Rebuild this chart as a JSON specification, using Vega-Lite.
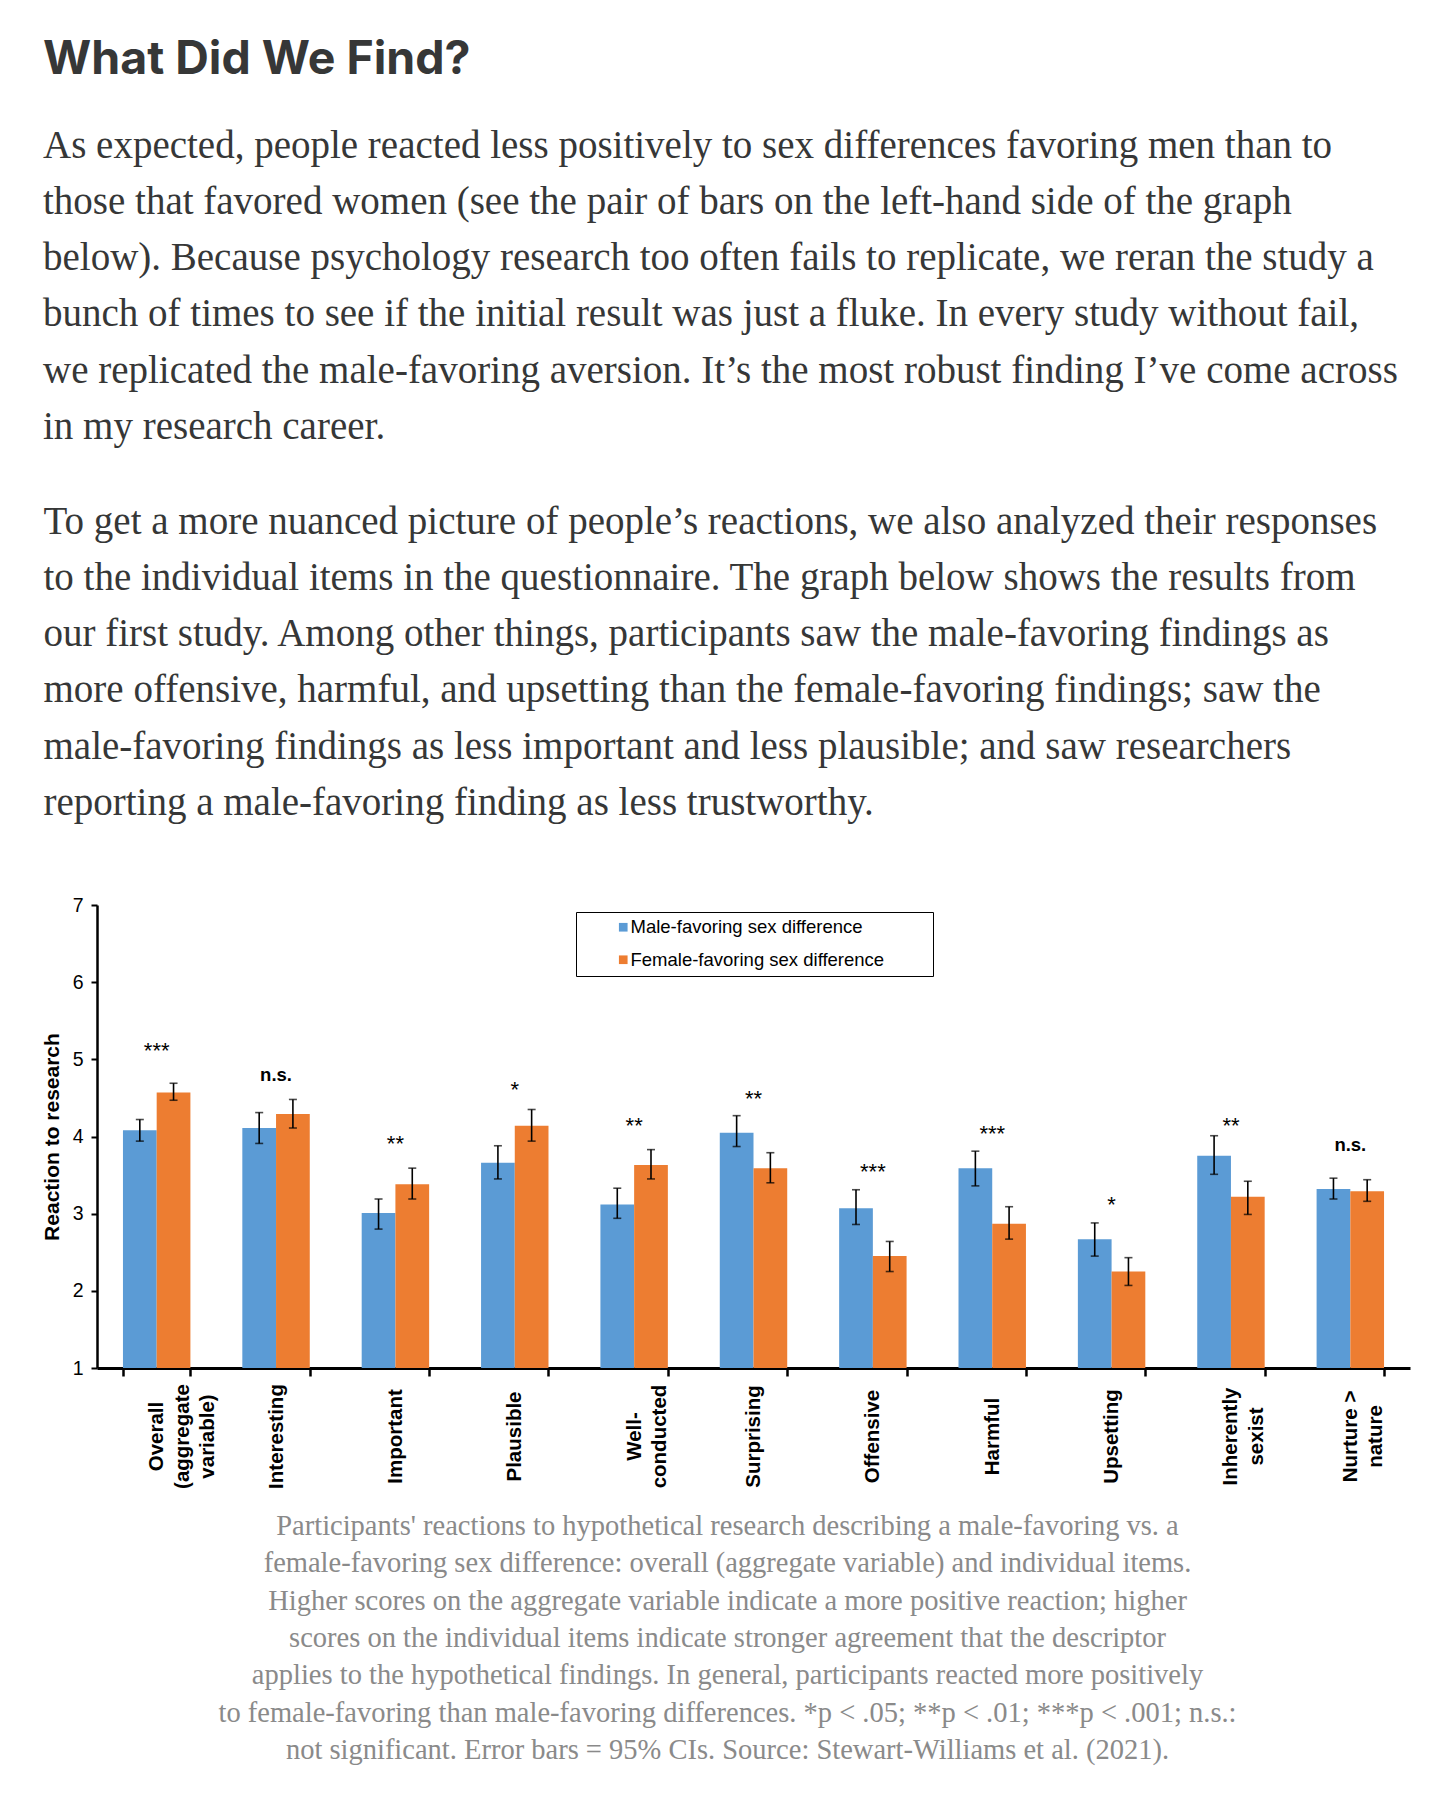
{
  "$schema": "https://vega.github.io/schema/vega-lite/v6.json",
  "width": 1313,
  "height": 463,
  "autosize": {"type": "none"},
  "padding": {"left": 97, "top": 905, "right": 46, "bottom": 450},
  "background": "white",
  "title": {
    "text": "What Did We Find?",
    "subtitle": [
      "As expected, people reacted less positively to sex differences favoring men than to",
      "those that favored women (see the pair of bars on the left-hand side of the graph",
      "below). Because psychology research too often fails to replicate, we reran the study a",
      "bunch of times to see if the initial result was just a fluke. In every study without fail,",
      "we replicated the male-favoring aversion. It\u2019s the most robust finding I\u2019ve come across",
      "in my research career."
    ],
    "anchor": "start",
    "frame": "group",
    "dx": -54,
    "offset": 55,
    "font": "Inter",
    "fontSize": 46.5,
    "fontWeight": 700,
    "color": "#363737",
    "subtitleFont": "Liberation Serif",
    "subtitleFontSize": 39,
    "subtitleColor": "#363737",
    "subtitleLineHeight": 56.3,
    "subtitlePadding": 43
  },
  "resolve": {"axis": {"x": "independent"}},
  "datasets": {
    "bars": [
      {"item": "Overall (aggregate variable)", "group": "Male-favoring sex difference", "value": 4.08, "lo": 3.94, "hi": 4.22},
      {"item": "Overall (aggregate variable)", "group": "Female-favoring sex difference", "value": 4.57, "lo": 4.47, "hi": 4.69},
      {"item": "Interesting", "group": "Male-favoring sex difference", "value": 4.11, "lo": 3.91, "hi": 4.31},
      {"item": "Interesting", "group": "Female-favoring sex difference", "value": 4.29, "lo": 4.11, "hi": 4.48},
      {"item": "Important", "group": "Male-favoring sex difference", "value": 3.01, "lo": 2.80, "hi": 3.19},
      {"item": "Important", "group": "Female-favoring sex difference", "value": 3.38, "lo": 3.19, "hi": 3.59},
      {"item": "Plausible", "group": "Male-favoring sex difference", "value": 3.66, "lo": 3.45, "hi": 3.88},
      {"item": "Plausible", "group": "Female-favoring sex difference", "value": 4.14, "lo": 3.94, "hi": 4.35},
      {"item": "Well-conducted", "group": "Male-favoring sex difference", "value": 3.12, "lo": 2.94, "hi": 3.33},
      {"item": "Well-conducted", "group": "Female-favoring sex difference", "value": 3.63, "lo": 3.45, "hi": 3.83},
      {"item": "Surprising", "group": "Male-favoring sex difference", "value": 4.05, "lo": 3.87, "hi": 4.27},
      {"item": "Surprising", "group": "Female-favoring sex difference", "value": 3.59, "lo": 3.40, "hi": 3.79},
      {"item": "Offensive", "group": "Male-favoring sex difference", "value": 3.07, "lo": 2.86, "hi": 3.31},
      {"item": "Offensive", "group": "Female-favoring sex difference", "value": 2.45, "lo": 2.25, "hi": 2.64},
      {"item": "Harmful", "group": "Male-favoring sex difference", "value": 3.59, "lo": 3.36, "hi": 3.81},
      {"item": "Harmful", "group": "Female-favoring sex difference", "value": 2.87, "lo": 2.67, "hi": 3.09},
      {"item": "Upsetting", "group": "Male-favoring sex difference", "value": 2.67, "lo": 2.45, "hi": 2.88},
      {"item": "Upsetting", "group": "Female-favoring sex difference", "value": 2.25, "lo": 2.07, "hi": 2.43},
      {"item": "Inherently sexist", "group": "Male-favoring sex difference", "value": 3.75, "lo": 3.51, "hi": 4.01},
      {"item": "Inherently sexist", "group": "Female-favoring sex difference", "value": 3.22, "lo": 2.99, "hi": 3.42},
      {"item": "Nurture > nature", "group": "Male-favoring sex difference", "value": 3.32, "lo": 3.19, "hi": 3.46},
      {"item": "Nurture > nature", "group": "Female-favoring sex difference", "value": 3.29, "lo": 3.16, "hi": 3.44}
    ],
    "sig": [
      {"item": "Overall (aggregate variable)", "sig": "***", "pos": 5.18},
      {"item": "Interesting", "sig": "n.s.", "pos": 4.79},
      {"item": "Important", "sig": "**", "pos": 3.98},
      {"item": "Plausible", "sig": "*", "pos": 4.68},
      {"item": "Well-conducted", "sig": "**", "pos": 4.21},
      {"item": "Surprising", "sig": "**", "pos": 4.57},
      {"item": "Offensive", "sig": "***", "pos": 3.62},
      {"item": "Harmful", "sig": "***", "pos": 4.11},
      {"item": "Upsetting", "sig": "*", "pos": 3.19},
      {"item": "Inherently sexist", "sig": "**", "pos": 4.22},
      {"item": "Nurture > nature", "sig": "n.s.", "pos": 3.88}
    ]
  },
  "layer": [
    {
      "data": {"name": "bars"},
      "mark": {"type": "bar"},
      "encoding": {
        "x": {
          "field": "item",
          "type": "nominal",
          "sort": null,
          "scale": {"paddingInner": 0.435, "paddingOuter": 0.2175},
          "axis": {
            "orient": "bottom",
            "domain": true,
            "domainColor": "black",
            "domainWidth": 3,
            "ticks": true,
            "tickBand": "extent",
            "tickSize": 8,
            "tickWidth": 2.5,
            "tickColor": "black",
            "labelAngle": -90,
            "labelAlign": "center",
            "labelBaseline": "middle",
            "labelPadding": 60,
            "labelFont": "Liberation Sans",
            "labelFontWeight": "bold",
            "labelFontSize": 20.5,
            "labelColor": "black",
            "labelLineHeight": 25.5,
            "labelOverlap": false,
            "labelLimit": 400,
            "labelExpr": "datum.value == 'Overall (aggregate variable)' ? ['Overall', '(aggregate', 'variable)'] : datum.value == 'Well-conducted' ? ['Well-', 'conducted'] : datum.value == 'Inherently sexist' ? ['Inherently', 'sexist'] : datum.value == 'Nurture > nature' ? ['Nurture >', 'nature'] : datum.value",
            "title": [
              "Participants' reactions to hypothetical research describing a male-favoring vs. a",
              "female-favoring sex difference: overall (aggregate variable) and individual items.",
              "Higher scores on the aggregate variable indicate a more positive reaction; higher",
              "scores on the individual items indicate stronger agreement that the descriptor",
              "applies to the hypothetical findings. In general, participants reacted more positively",
              "to female-favoring than male-favoring differences. *p < .05; **p < .01; ***p < .001; n.s.:",
              "not significant. Error bars = 95% CIs. Source: Stewart-Williams et al. (2021)."
            ],
            "titleFont": "Liberation Serif",
            "titleFontSize": 28.5,
            "titleFontWeight": "normal",
            "titleColor": "#8a8a8a",
            "titleLineHeight": 37.3,
            "titleAlign": "center",
            "titleBaseline": "top",
            "titleX": 630,
            "titleY": 143.5,
            "titleLimit": 3000
          }
        },
        "xOffset": {"field": "group", "type": "nominal", "sort": ["Male-favoring sex difference", "Female-favoring sex difference"]},
        "y": {
          "field": "value",
          "type": "quantitative",
          "scale": {"domain": [1, 7], "zero": false, "nice": false},
          "axis": {
            "values": [1, 2, 3, 4, 5, 6, 7],
            "format": "d",
            "grid": false,
            "domainColor": "black",
            "domainWidth": 2.5,
            "tickColor": "black",
            "tickWidth": 2,
            "tickSize": 6,
            "labelFont": "Liberation Sans",
            "labelFontSize": 19.5,
            "labelColor": "black",
            "labelPadding": 8,
            "title": "Reaction to research",
            "titleFont": "Liberation Sans",
            "titleFontSize": 21,
            "titleFontWeight": "bold",
            "titleColor": "black",
            "titleAngle": -90,
            "titleAlign": "center",
            "titleBaseline": "middle",
            "titleX": -45,
            "titleY": 231.5
          }
        },
        "y2": {"datum": 1},
        "color": {
          "field": "group",
          "type": "nominal",
          "sort": ["Male-favoring sex difference", "Female-favoring sex difference"],
          "scale": {"domain": ["Male-favoring sex difference", "Female-favoring sex difference"], "range": ["#5B9BD5", "#ED7D31"]},
          "legend": {
            "title": null,
            "orient": "none",
            "legendX": 479,
            "legendY": 7,
            "padding": 6,
            "strokeColor": "black",
            "fillColor": "white",
            "symbolType": "square",
            "symbolSize": 75,
            "symbolStrokeWidth": 0,
            "symbolOffset": 32,
            "labelOffset": -2,
            "labelFont": "Liberation Sans",
            "labelFontSize": 18.5,
            "labelColor": "black",
            "labelLimit": 500,
            "rowPadding": 13.5,
            "labelExpr": "datum.label + '\u2800\u2800\u2800'"
          }
        }
      }
    },
    {
      "data": {"name": "bars"},
      "mark": {"type": "rule", "color": "black", "strokeWidth": 1.6},
      "encoding": {
        "x": {
          "field": "item",
          "type": "nominal",
          "sort": null,
          "axis": {
            "orient": "top",
            "domain": false,
            "ticks": false,
            "labels": false,
            "grid": false,
            "title": [
              "To get a more nuanced picture of people\u2019s reactions, we also analyzed their responses",
              "to the individual items in the questionnaire. The graph below shows the results from",
              "our first study. Among other things, participants saw the male-favoring findings as",
              "more offensive, harmful, and upsetting than the female-favoring findings; saw the",
              "male-favoring findings as less important and less plausible; and saw researchers",
              "reporting a male-favoring finding as less trustworthy."
            ],
            "titleFont": "Liberation Serif",
            "titleFontSize": 39,
            "titleFontWeight": "normal",
            "titleColor": "#363737",
            "titleLineHeight": 56.3,
            "titleAlign": "left",
            "titleBaseline": "alphabetic",
            "titleAngle": 0,
            "titleX": -54,
            "titleY": -372,
            "titleLimit": 3000
          }
        },
        "xOffset": {"field": "group", "type": "nominal", "sort": ["Male-favoring sex difference", "Female-favoring sex difference"]},
        "y": {"field": "lo", "type": "quantitative"},
        "y2": {"field": "hi"}
      }
    },
    {
      "data": {"name": "bars"},
      "mark": {"type": "tick", "color": "black", "size": 8, "thickness": 1.6},
      "encoding": {
        "x": {"field": "item", "type": "nominal", "sort": null, "axis": null},
        "xOffset": {"field": "group", "type": "nominal", "sort": ["Male-favoring sex difference", "Female-favoring sex difference"]},
        "y": {"field": "lo", "type": "quantitative"}
      }
    },
    {
      "data": {"name": "bars"},
      "mark": {"type": "tick", "color": "black", "size": 8, "thickness": 1.6},
      "encoding": {
        "x": {"field": "item", "type": "nominal", "sort": null, "axis": null},
        "xOffset": {"field": "group", "type": "nominal", "sort": ["Male-favoring sex difference", "Female-favoring sex difference"]},
        "y": {"field": "hi", "type": "quantitative"}
      }
    },
    {
      "data": {"name": "sig"},
      "transform": [{"filter": "datum.sig != 'n.s.'"}],
      "mark": {"type": "text", "font": "Liberation Sans", "fontSize": 22, "color": "black", "baseline": "middle", "dy": 6},
      "encoding": {
        "x": {"field": "item", "type": "nominal", "sort": null, "axis": null},
        "y": {"field": "pos", "type": "quantitative"},
        "text": {"field": "sig"}
      }
    },
    {
      "data": {"name": "sig"},
      "transform": [{"filter": "datum.sig == 'n.s.'"}],
      "mark": {"type": "text", "font": "Liberation Sans", "fontSize": 18.5, "fontWeight": "bold", "color": "black", "baseline": "middle", "dy": -1},
      "encoding": {
        "x": {"field": "item", "type": "nominal", "sort": null, "axis": null},
        "y": {"field": "pos", "type": "quantitative"},
        "text": {"field": "sig"}
      }
    }
  ],
  "config": {
    "view": {"stroke": null},
    "font": "Liberation Sans"
  }
}
